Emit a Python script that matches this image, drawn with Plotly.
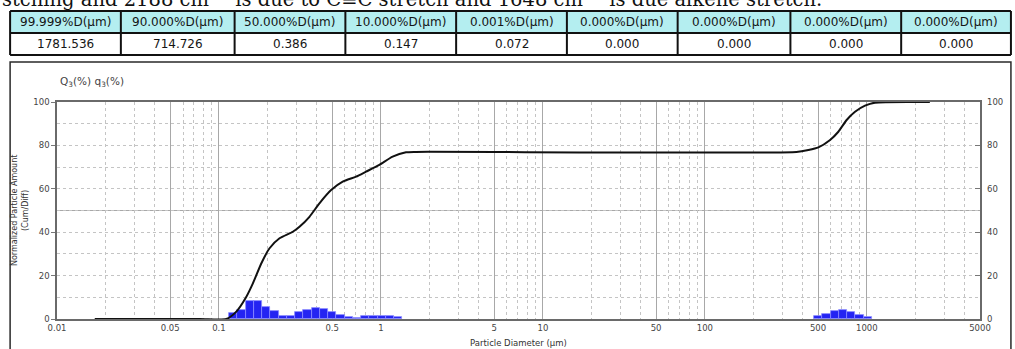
import plotly.graph_objects as go

# ---------------- data ----------------
# summary table above the chart
col_headers = ["99.999%D(µm)", "90.000%D(µm)", "50.000%D(µm)", "10.000%D(µm)", "0.001%D(µm)",
               "0.000%D(µm)", "0.000%D(µm)", "0.000%D(µm)", "0.000%D(µm)"]
col_values = ["1781.536", "714.726", "0.386", "0.147", "0.072",
              "0.000", "0.000", "0.000", "0.000"]

# frequency distribution q3 (%): size-class edges (µm) and class values
fine_edges = [0.1153, 0.1297, 0.1459, 0.1641, 0.1845, 0.2075, 0.2333, 0.2624, 0.2951, 0.3319,
              0.3733, 0.4198, 0.4721, 0.5309, 0.5970, 0.6714, 0.7551, 0.8492, 0.9550, 1.0740,
              1.2078, 1.3583]
fine_q3 = [2.7, 4.2, 8.4, 8.5, 5.4, 3.9, 1.6, 1.5, 3.0, 4.0, 4.9, 4.4, 3.0, 1.9, 1.0, 0.4,
           1.5, 1.5, 1.5, 1.5, 0.7]
coarse_edges = [472.1, 530.9, 597.0, 671.4, 755.1, 849.2, 955.0, 1074.0]
coarse_q3 = [1.4, 2.5, 3.8, 4.0, 3.1, 2.0, 0.8]

# cumulative distribution Q3 (%)
cum_diam = [0.0171, 0.076, 0.111, 0.128, 0.147, 0.162, 0.1825, 0.2053, 0.2366, 0.2857,
            0.3142, 0.362, 0.4173, 0.4925, 0.5808, 0.7024, 0.8094, 0.9775, 1.181, 1.428,
            1.645, 367.8, 436.0, 502.5, 593.4, 667.4, 750.9, 845.9, 974.8, 1123.0, 2451.0]
cum_pct = [0.0, 0.0, 0.0, 3.4, 10.0, 16.4, 25.6, 32.6, 37.2, 40.2,
           42.5, 47.1, 53.3, 59.4, 63.3, 65.6, 67.9, 71.0, 74.8, 76.8,
           77.0, 77.0, 77.9, 79.1, 82.5, 86.3, 91.7, 95.5, 98.3, 99.7, 100.0]

x_ticks = [0.01, 0.05, 0.1, 0.5, 1, 5, 10, 50, 100, 500, 1000, 5000]
x_tick_text = ["0.01", "0.05", "0.1", "0.5", "1", "5", "10", "50", "100", "500", "1000", "5000"]
y_ticks = [0, 20, 40, 60, 80, 100]

# ---------------- layout geometry (pixels) ----------------
W, H = 1015, 349
L, R, T, B = 57, 982, 102, 319


def xp(px):
    return (px - L) / (R - L)


def yp(py):
    return (B - py) / (B - T)


FONT = "DejaVu Sans"
TICK_FONT = dict(family=FONT, size=8.5, color="#444")

fig = go.Figure()


def add_bars(edges, values):
    xs = [(a + b) / 2 for a, b in zip(edges[:-1], edges[1:])]
    ws = [b - a for a, b in zip(edges[:-1], edges[1:])]
    fig.add_trace(go.Bar(
        x=xs, y=values, width=ws,
        marker=dict(color="#2424f2", line=dict(color="#8a8aff", width=0.8)),
        hoverinfo="skip", showlegend=False, yaxis="y",
    ))


add_bars(fine_edges, fine_q3)
add_bars(coarse_edges, coarse_q3)

fig.add_trace(go.Scatter(
    x=cum_diam, y=cum_pct, mode="lines",
    line=dict(color="#111", width=2, shape="spline", smoothing=0.6),
    hoverinfo="skip", showlegend=False, yaxis="y2",
))

# minor grid positions (2..9 in every decade)
minor_vals = [m * 10 ** e for e in range(-2, 4) for m in (2, 3, 4, 6, 7, 8, 9) if m * 10 ** e < 5000]

fig.update_layout(
    width=W, height=H,
    margin=dict(l=L, r=W - R, t=T, b=H - B, pad=0),
    paper_bgcolor="white", plot_bgcolor="white",
    bargap=0,
    xaxis=dict(
        type="log", range=[-2, 3.69897],
        tickvals=x_ticks, ticktext=x_tick_text, tickfont=TICK_FONT,
        ticks="", showgrid=True, gridcolor="#a8a8a8", gridwidth=1,
        minor=dict(tickvals=minor_vals, showgrid=True, gridcolor="#c4c4c4",
                   griddash="dot", gridwidth=1, ticks=""),
        showline=True, linecolor="#6a6a6a", linewidth=1.5, mirror=True,
        zeroline=False, fixedrange=True,
    ),
    yaxis=dict(
        range=[0, 100], tickvals=y_ticks, tickfont=TICK_FONT,
        ticks="outside", ticklen=4, tickcolor="#777",
        showgrid=True, gridcolor="#c4c4c4", griddash="dot", gridwidth=1,
        minor=dict(tickvals=[10, 30, 50, 70, 90], showgrid=True, gridcolor="#c4c4c4",
                   griddash="dot", gridwidth=1, ticks=""),
        showline=True, linecolor="#6a6a6a", linewidth=1.5, mirror=True,
        zeroline=False, fixedrange=True,
    ),
    yaxis2=dict(
        range=[0, 100], tickvals=y_ticks, tickfont=TICK_FONT,
        overlaying="y", side="right",
        ticks="inside", ticklen=5, tickcolor="#777", ticklabelstandoff=6,
        showgrid=False, showline=False, zeroline=False, fixedrange=True,
    ),
)

shapes = []
annotations = []

# solid grid line at 50 %
shapes.append(dict(type="line", xref="paper", yref="y", x0=0, x1=1, y0=50, y1=50,
                   line=dict(color="#a8a8a8", width=1), layer="below"))

# outer frame around the chart panel
shapes.append(dict(type="rect", xref="paper", yref="paper",
                   x0=xp(10), x1=xp(1013), y0=yp(62), y1=yp(420),
                   line=dict(color="#2a2a2a", width=1.5), fillcolor="rgba(0,0,0,0)"))

# summary table
col_edges = [10, 121, 235, 346, 457, 568, 679, 792, 903, 1013]
row_top, row_mid, row_bot = 11, 33, 55
for i in range(len(col_headers)):
    x0, x1 = col_edges[i], col_edges[i + 1]
    shapes.append(dict(type="rect", xref="paper", yref="paper",
                       x0=xp(x0), x1=xp(x1), y0=yp(row_mid), y1=yp(row_top),
                       line=dict(width=0), fillcolor="#b4eef0"))
    annotations.append(dict(xref="paper", yref="paper", x=xp((x0 + x1) / 2), y=yp((row_top + row_mid) / 2),
                            text=col_headers[i], showarrow=False, xanchor="center", yanchor="middle",
                            font=dict(family=FONT, size=12, color="#151515")))
    annotations.append(dict(xref="paper", yref="paper", x=xp((x0 + x1) / 2), y=yp((row_mid + row_bot) / 2),
                            text=col_values[i], showarrow=False, xanchor="center", yanchor="middle",
                            font=dict(family=FONT, size=12, color="#151515")))
for cx in col_edges:
    shapes.append(dict(type="line", xref="paper", yref="paper", x0=xp(cx), x1=xp(cx),
                       y0=yp(row_top), y1=yp(row_bot), line=dict(color="#111", width=2)))
for ry in (row_top, row_mid, row_bot):
    shapes.append(dict(type="line", xref="paper", yref="paper", x0=xp(col_edges[0]), x1=xp(col_edges[-1]),
                       y0=yp(ry), y1=yp(ry), line=dict(color="#111", width=2)))

# running text line above the table
annotations.append(dict(xref="paper", yref="paper", x=xp(0), y=yp(13), xanchor="left", yanchor="bottom",
                        text="stching and 2188 cm<sup>−1</sup> is due to C≡C stretch and 1648 cm<sup>−1</sup> is due alkene stretch.",
                        showarrow=False, font=dict(family="DejaVu Serif", size=19.5, color="#111")))

# panel labels
annotations.append(dict(xref="paper", yref="paper", x=xp(58), y=yp(82), xanchor="left", yanchor="middle",
                        text="Q<sub>3</sub>(%) q<sub>3</sub>(%)", showarrow=False,
                        font=dict(family=FONT, size=10.5, color="#444")))
annotations.append(dict(xref="paper", yref="paper", x=xp((L + R) / 2), y=yp(343), xanchor="center",
                        yanchor="middle", text="Particle Diameter (µm)", showarrow=False,
                        font=dict(family=FONT, size=8.5, color="#333")))
annotations.append(dict(xref="paper", yref="paper", x=xp(14), y=yp(211), xanchor="center", yanchor="middle",
                        text="Normalized Particle Amount", textangle=-90, showarrow=False,
                        font=dict(family=FONT, size=8, color="#333")))
annotations.append(dict(xref="paper", yref="paper", x=xp(25), y=yp(211), xanchor="center", yanchor="middle",
                        text="(Cum/Diff)", textangle=-90, showarrow=False,
                        font=dict(family=FONT, size=8, color="#333")))

fig.update_layout(shapes=shapes, annotations=annotations)

fig.write_html("out.html", config={"displayModeBar": False})
